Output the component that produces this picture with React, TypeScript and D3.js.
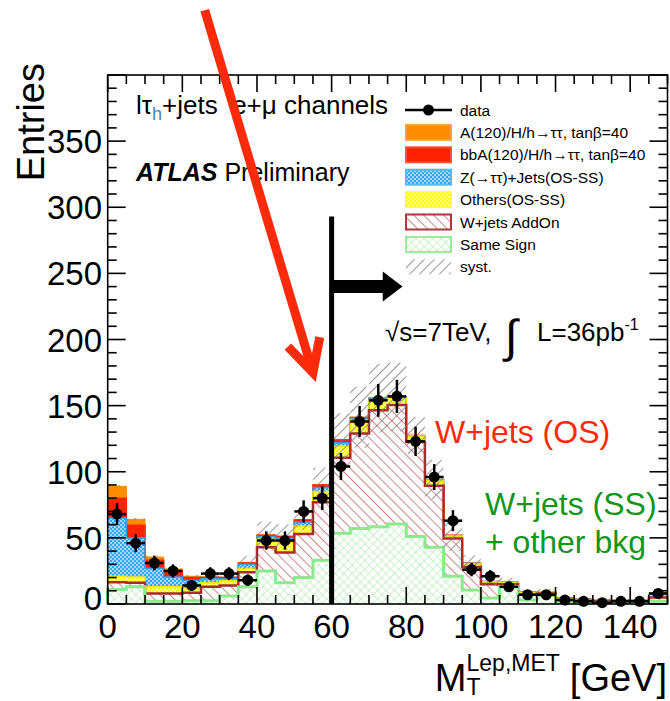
import { useEffect, useRef } from "react";
import * as d3 from "d3";

// M_T(lep,MET) histogram, 5 GeV bins from 0 to 150
const binLow = [0, 5, 10, 15, 20, 25, 30, 35, 40, 45, 50, 55, 60, 65, 70, 75, 80, 85, 90, 95, 100, 105, 110, 115, 120, 125, 130, 135, 140, 145];
const binWidth = 5;

// stack components (entries per bin), bottom to top
const sameSign = [11, 13, 2, 2, 2.5, 2.5, 6, 13, 25, 16, 20, 33, 53.5, 57, 58.5, 60.5, 51, 43, 21, 10.5, 4.5, 13, 3, 6.5, 1.5, 1, 1, 1, 1, 2];
const wjetsAddOn = [5.5, 3, 6, 6, 6, 10.5, 8, 11, 18, 23, 33, 44, 57, 72, 88, 90, 71.5, 46.5, 28.5, 17.5, 10.5, 2, 4, 1.5, 1.5, 1.5, 1, 1, 1, 3];
const others = [4.5, 4.5, 5, 5, 3.5, 3, 3.6, 3, 6, 8, 6, 8, 9, 10, 7.5, 5, 4.5, 4, 2, 2.5, 1.8, 1.5, 1.5, 1, 1, 0.8, 0.8, 0.8, 0.8, 1.5];
const zTauTau = [44, 29.5, 14, 7.5, 6, 3, 1.4, 3, 2, 3, 3, 3, 2.5, 1.5, 1, 0.5, 0.3, 0.3, 0.2, 0.2, 0.2, 0.3, 0.3, 0.3, 0.3, 0.2, 0.2, 0.2, 0.2, 0.3];
const bbA120 = [15, 9.5, 6, 4.5, 2, 1, 1, 1, 1, 1, 1.5, 2, 2, 0.5, 0.5, 0.3, 0.2, 0.2, 0.2, 0.2, 0, 0, 0, 0, 0, 0, 0, 0, 0, 0];
const a120 = [9, 4.5, 2.5, 1.5, 1, 0.6, 0.3, 0.3, 0.3, 0.3, 0.3, 0.3, 0.3, 0.2, 0.1, 0.1, 0, 0, 0, 0, 0, 0, 0, 0, 0, 0, 0, 0, 0, 0];

const dataCounts = [68, 46, 31, 25, 14, 23, 23, 18, 48, 48, 70, 80, 104, 138, 154, 157, 123, 96, 63, 26, 21, 13, 7, 7, 3, 2, 1, 2, 2, 8];
const systErr = [1, 1, 1, 1, 1, 1.5, 2, 5, 10, 9, 8, 13, 20, 23, 26, 26, 14, 15, 12, 6, 3, 3, 2, 2, 1, 1, 1, 1, 1, 2];

const xTicks = [0, 20, 40, 60, 80, 100, 120, 140];
const yTicks = [0, 50, 100, 150, 200, 250, 300, 350];

const legendLabels = [
  "data",
  "A(120)/H/h\u2192\u03c4\u03c4, tan\u03b2=40",
  "bbA(120)/H/h\u2192\u03c4\u03c4, tan\u03b2=40",
  "Z(\u2192\u03c4\u03c4)+Jets(OS-SS)",
  "Others(OS-SS)",
  "W+jets AddOn",
  "Same Sign",
  "syst.",
];

const FONT = "'Liberation Sans', Arial, Helvetica, sans-serif";

const App = () => {
  const ref = useRef<SVGSVGElement>(null);

  useEffect(() => {
    const svg = d3.select(ref.current);
    svg.selectAll("*").remove();

    const x = d3.scaleLinear().domain([0, 150]).range([107.7, 667.5]);
    const y = d3.scaleLinear().domain([0, 400]).range([604, 75]);

    /*** patterns ***/
    const defs = svg.append("defs");
    const lines = (id: string, size: number, angle: number, color: string, w: number, bg?: string) => {
      const p = defs
        .append("pattern")
        .attr("id", id)
        .attr("patternUnits", "userSpaceOnUse")
        .attr("width", size)
        .attr("height", size)
        .attr("patternTransform", `rotate(${angle})`);
      if (bg) p.append("rect").attr("width", size).attr("height", size).attr("fill", bg);
      p.append("line").attr("x1", 0).attr("y1", 0).attr("x2", 0).attr("y2", size).attr("stroke", color).attr("stroke-width", w);
      return p;
    };
    lines("wPat", 7, -45, "#c97070", 1.7, "#fff");
    lines("systPat", 7, 45, "#7a7a7a", 1.6);
    const ss = lines("ssPat", 6, 45, "#9ee69e", 1, "#fff");
    ss.append("line").attr("x1", 0).attr("y1", 0).attr("x2", 6).attr("y2", 0).attr("stroke", "#9ee69e").attr("stroke-width", 1);
    const dots = (id: string, bg: string, dot: string) => {
      const p = defs.append("pattern").attr("id", id).attr("patternUnits", "userSpaceOnUse").attr("width", 4).attr("height", 4);
      p.append("rect").attr("width", 4).attr("height", 4).attr("fill", bg);
      p.append("circle").attr("cx", 1).attr("cy", 1).attr("r", 0.9).attr("fill", dot);
      p.append("circle").attr("cx", 3).attr("cy", 3).attr("r", 0.9).attr("fill", dot);
    };
    dots("zPat", "#35a6f2", "#d8efff");
    dots("othPat", "#ffff00", "#ffffb8");

    /*** stack ***/
    const layers = [
      { vals: sameSign, fill: "url(#ssPat)", line: "#8ee88e", lw: 3 },
      { vals: wjetsAddOn, fill: "url(#wPat)", line: "#a82a2a", lw: 2.5 },
      { vals: others, fill: "url(#othPat)", line: "#f2e600", lw: 1.5 },
      { vals: zTauTau, fill: "url(#zPat)", line: "#2f9ff0", lw: 1.5 },
      { vals: bbA120, fill: "#ff2200", line: "#ff2200", lw: 1.5 },
      { vals: a120, fill: "#ff8c00", line: "#ff8c00", lw: 1 },
    ];
    const cum: number[][] = [];
    layers.forEach((l, k) => {
      cum.push(l.vals.map((v, i) => v + (k > 0 ? cum[k - 1][i] : 0)));
    });
    const total = cum[cum.length - 1];

    const band = d3
      .area<[number, number, number]>()
      .x((d) => x(d[0]))
      .y0((d) => y(d[1]))
      .y1((d) => y(d[2]));
    const bandPts = (lo: number[], hi: number[]) =>
      binLow.flatMap((b, i) => [
        [b, lo[i], hi[i]] as [number, number, number],
        [b + binWidth, lo[i], hi[i]] as [number, number, number],
      ]);
    const step = d3
      .line<[number, number]>()
      .x((d) => x(d[0]))
      .y((d) => y(d[1]));
    const stepPts = (vals: number[]) =>
      binLow.flatMap((b, i) => [[b, vals[i]] as [number, number], [b + binWidth, vals[i]] as [number, number]]);

    const zero = binLow.map(() => 0);
    layers.forEach((l, k) => {
      svg.append("path").attr("d", band(bandPts(k > 0 ? cum[k - 1] : zero, cum[k]))).attr("fill", l.fill);
    });
    for (let k = layers.length - 1; k >= 0; k--) {
      const pts = stepPts(cum[k]);
      if (k === 0) {
        pts.unshift([0, 0]);
        pts.push([150, 0]);
      }
      svg
        .append("path")
        .attr("d", step(pts))
        .attr("fill", "none")
        .attr("stroke", layers[k].line)
        .attr("stroke-width", layers[k].lw);
    }

    /*** syst band ***/
    svg
      .append("path")
      .attr("d", band(bandPts(total.map((t, i) => Math.max(0, t - systErr[i])), total.map((t, i) => t + systErr[i]))))
      .attr("fill", "url(#systPat)");

    /*** data ***/
    const dg = svg.append("g").attr("stroke", "#000").attr("stroke-width", 2.5);
    dataCounts.forEach((n, i) => {
      const c = binLow[i] + binWidth / 2;
      const e = Math.sqrt(n);
      dg.append("line").attr("x1", x(c)).attr("x2", x(c)).attr("y1", y(n - e)).attr("y2", y(n + e));
      dg.append("line").attr("x1", x(binLow[i])).attr("x2", x(binLow[i] + binWidth)).attr("y1", y(n)).attr("y2", y(n));
      dg.append("circle").attr("cx", x(c)).attr("cy", y(n)).attr("r", 5.5).attr("fill", "#000").attr("stroke", "none");
    });

    /*** frame + ticks ***/
    const [x0, x1] = x.range();
    const [yb, yt] = y.range();
    const ax = svg.append("g").attr("stroke", "#000").attr("stroke-width", 1.6);
    ax.append("rect").attr("x", x0).attr("y", yt).attr("width", x1 - x0).attr("height", yb - yt).attr("fill", "none");
    d3.range(0, 151, 5).forEach((v) => {
      const len = v % 20 === 0 ? 17 : 9;
      ax.append("line").attr("x1", x(v)).attr("x2", x(v)).attr("y1", yb).attr("y2", yb - len);
      ax.append("line").attr("x1", x(v)).attr("x2", x(v)).attr("y1", yt).attr("y2", yt + len);
    });
    d3.range(0, 401, 10).forEach((v) => {
      const len = v % 50 === 0 ? 18 : 9;
      ax.append("line").attr("x1", x0).attr("x2", x0 + len).attr("y1", y(v)).attr("y2", y(v));
      ax.append("line").attr("x1", x1).attr("x2", x1 - len).attr("y1", y(v)).attr("y2", y(v));
    });

    const tl = svg.append("g").attr("font-family", FONT).attr("font-size", 33).attr("fill", "#000");
    xTicks.forEach((v) => {
      tl.append("text").attr("x", x(v)).attr("y", 638).attr("text-anchor", "middle").text(v);
    });
    yTicks.forEach((v) => {
      tl.append("text")
        .attr("x", 102)
        .attr("y", y(v) + (v === 0 ? 6 : 12))
        .attr("text-anchor", "end")
        .text(v);
    });

    /*** axis titles ***/
    svg
      .append("text")
      .attr("transform", "translate(44,63) rotate(-90)")
      .attr("text-anchor", "end")
      .attr("font-family", FONT)
      .attr("font-size", 38)
      .text("Entries");

    const xt = svg.append("g").attr("font-family", FONT);
    const gev = xt.append("text").attr("x", 667).attr("y", 691).attr("text-anchor", "end").attr("font-size", 38).text("[GeV]");
    const wGev = (gev.node() as SVGTextElement).getComputedTextLength();
    const sup = xt.append("text").attr("x", 667 - wGev - 10).attr("y", 671).attr("text-anchor", "end").attr("font-size", 23).text("Lep,MET");
    const wSup = (sup.node() as SVGTextElement).getComputedTextLength();
    const sx = 667 - wGev - 10 - wSup;
    xt.append("text").attr("x", sx).attr("y", 695).attr("font-size", 23).text("T");
    xt.append("text").attr("x", sx).attr("y", 691).attr("text-anchor", "end").attr("font-size", 38).text("M");

    /*** labels inside the frame ***/
    const lab = svg.append("g").attr("font-family", FONT).attr("fill", "#000");
    const ch = lab.append("text").attr("x", 136).attr("y", 114).attr("font-size", 26);
    ch.append("tspan").text("l\u03c4");
    ch.append("tspan").attr("dy", 6).attr("font-size", 18).attr("fill", "#3d86b8").text("h");
    ch.append("tspan").attr("dy", -6).text("+jets  e+\u03bc channels").attr("style", "white-space:pre");

    const atl = lab.append("text").attr("x", 136).attr("y", 181).attr("font-size", 25);
    atl.append("tspan").attr("font-weight", "bold").attr("font-style", "italic").text("ATLAS");
    atl.append("tspan").text(" Preliminary");

    lab.append("text").attr("x", 385).attr("y", 341).attr("font-size", 26).text("\u221as=7TeV,");
    lab.append("text").attr("x", 505).attr("y", 352).attr("font-size", 46).text("\u222b");
    const lum = lab.append("text").attr("x", 537).attr("y", 341).attr("font-size", 26);
    lum.append("tspan").text("L=36pb");
    lum.append("tspan").attr("dy", -11).attr("font-size", 16).text("-1");

    lab.append("text").attr("x", 435).attr("y", 443).attr("font-size", 32).attr("fill", "#ff2a0a").text("W+jets (OS)");
    lab.append("text").attr("x", 485).attr("y", 515).attr("font-size", 32).attr("fill", "#12961a").text("W+jets (SS)");
    lab.append("text").attr("x", 485).attr("y", 553).attr("font-size", 32).attr("fill", "#12961a").text("+ other bkg");

    /*** legend ***/
    const lg = svg.append("g").attr("font-family", FONT).attr("font-size", 15.5);
    const rowY = (i: number) => 110 + i * 22.4;
    const bx0 = 405,
      bx1 = 452;
    lg.append("line").attr("x1", bx0).attr("x2", bx1).attr("y1", rowY(0)).attr("y2", rowY(0)).attr("stroke", "#000").attr("stroke-width", 2.5);
    lg.append("circle").attr("cx", (bx0 + bx1) / 2).attr("cy", rowY(0)).attr("r", 5.5).attr("fill", "#000");
    const boxes = [
      { fill: "#ff8c00", stroke: "#ffa040" },
      { fill: "#ff2200", stroke: "#ff5030" },
      { fill: "url(#zPat)", stroke: "#5ab8f5" },
      { fill: "url(#othPat)", stroke: "#ffff40" },
      { fill: "url(#wPat)", stroke: "#a83a3a" },
      { fill: "url(#ssPat)", stroke: "#9ee89e" },
      { fill: "url(#systPat)", stroke: "none" },
    ];
    boxes.forEach((b, i) => {
      lg.append("rect")
        .attr("x", bx0 + 1)
        .attr("y", rowY(i + 1) - 7.5)
        .attr("width", bx1 - bx0 - 2)
        .attr("height", 15)
        .attr("fill", b.fill)
        .attr("stroke", b.stroke)
        .attr("stroke-width", 2);
    });
    legendLabels.forEach((t, i) => {
      lg.append("text").attr("x", 460).attr("y", rowY(i)).attr("dy", "0.36em").text(t);
    });

    /*** annotations: cut line and arrows ***/
    svg.append("line").attr("x1", x(60)).attr("x2", x(60)).attr("y1", y(0)).attr("y2", y(293)).attr("stroke", "#000").attr("stroke-width", 5);
    const ay = y(240);
    svg
      .append("path")
      .attr(
        "d",
        `M${x(60)},${ay - 6.5} L${x(73.7)},${ay - 6.5} L${x(73.7)},${ay - 15} L${x(79)},${ay} L${x(73.7)},${ay + 15} L${x(73.7)},${ay + 6.5} L${x(60)},${ay + 6.5} Z`
      )
      .attr("fill", "#000");

    const tip = [x(55), y(175)];
    const tail = [x(26), y(449)];
    const ang = Math.atan2(tail[1] - tip[1], tail[0] - tip[0]);
    const arm = (da: number) => [tip[0] + 36 * Math.cos(ang + da), tip[1] + 36 * Math.sin(ang + da)];
    const l1 = arm(0.48),
      r1 = arm(-0.48);
    svg
      .append("path")
      .attr("d", `M${tail[0]},${tail[1]} L${tip[0]},${tip[1]} M${l1[0]},${l1[1]} L${tip[0]},${tip[1]} L${r1[0]},${r1[1]}`)
      .attr("fill", "none")
      .attr("stroke", "#ff2a0a")
      .attr("stroke-width", 9)
      .attr("stroke-linejoin", "miter");
  }, []);

  return <svg ref={ref} width={670} height={701} style={{ position: "absolute", left: 0, top: 0, background: "#fff" }} />;
};

export default App;
